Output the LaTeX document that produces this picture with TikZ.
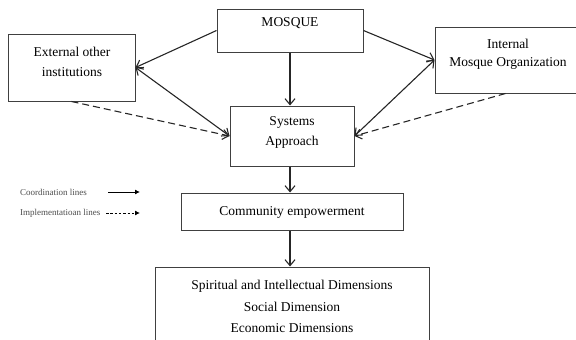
\documentclass[tikz,border=0pt]{standalone}
\usepackage{fontspec}
\setmainfont{Liberation Serif}
\usetikzlibrary{arrows.meta}
\begin{document}
\begin{tikzpicture}[x=1pt,y=-1pt,
  box/.style={draw=black!75,line width=1pt,inner sep=0pt,fill=white},
  lbl/.style={font=\fontsize{13.5}{20}\selectfont,align=center,inner sep=0pt},
  conn/.style={draw=black!85,line width=1.1pt,-{Straight Barb[length=6pt,width=10pt]}},
  dconn/.style={conn,dash pattern=on 7pt off 4pt},
  leg/.style={font=\fontsize{9}{10}\selectfont,text=black!70,inner sep=0pt,anchor=west}
]
\useasboundingbox (0,0) rectangle (576,340);
% boxes
\node[box,minimum width=146pt,minimum height=43pt] (mosque) at (290,30.5) {};
\node[box,minimum width=127pt,minimum height=67pt] (ext) at (71.5,67.5) {};
\node[box,minimum width=141pt,minimum height=66pt] (int) at (505.5,60) {};
\node[box,minimum width=124pt,minimum height=60pt] (sys) at (292,136) {};
\node[box,minimum width=222pt,minimum height=37pt] (comm) at (292,211.5) {};
\node[box,minimum width=274pt,minimum height=76pt] (dims) at (292,305) {};
% texts
\node[lbl] (tm) at (290,23) {MOSQUE};
\node[lbl] (te) at (72,62) {External other\\institutions};
\node[lbl,font=\fontsize{13.5}{18}\selectfont] (ti) at (508,54) {Internal\\Mosque Organization};
\node[lbl] (ts) at (292,132) {Systems\\Approach};
\node[lbl] (tc) at (292,212) {Community empowerment};
\node[lbl,font=\fontsize{13.5}{21.5}\selectfont] (td) at (292,306.5) {Spiritual and Intellectual Dimensions\\Social Dimension\\Economic Dimensions};
% connectors
\draw[conn] (mosque.west) -- (ext.east);
\draw[conn] (mosque.east) -- (int.west);
\draw[conn] (mosque.south) -- (mosque.south |- sys.north);
\draw[conn,{Straight Barb[length=6pt,width=10pt]}-{Straight Barb[length=6pt,width=10pt]}] (ext.east) -- (sys.west);
\draw[conn,{Straight Barb[length=6pt,width=10pt]}-{Straight Barb[length=6pt,width=10pt]}] (int.west) -- (sys.east);
\draw[dconn] (ext.south) -- (sys.west);
\draw[dconn] (int.south) -- (sys.east);
\draw[conn] (sys.south -| mosque.south) -- (comm.north -| mosque.south);
\draw[conn] (comm.south -| mosque.south) -- (dims.north -| mosque.south);
% legend
\node[leg] (l1) at (20,192) {Coordination lines};
\node[leg] (l2) at (20,213) {Implementatioan lines};
\coordinate (l1a) at (108,192);
\coordinate (l1b) at (140,192);
\coordinate (l2a) at (106,213);
\coordinate (l2b) at (140,213);
\draw[black,line width=0.9pt,-{Latex[length=5pt,width=5pt]}] (l1a) -- (l1b);
\draw[black,line width=0.9pt,dash pattern=on 2.5pt off 1.8pt,-{Latex[length=5pt,width=5pt]}] (l2a) -- (l2b);
\end{tikzpicture}
\end{document}
